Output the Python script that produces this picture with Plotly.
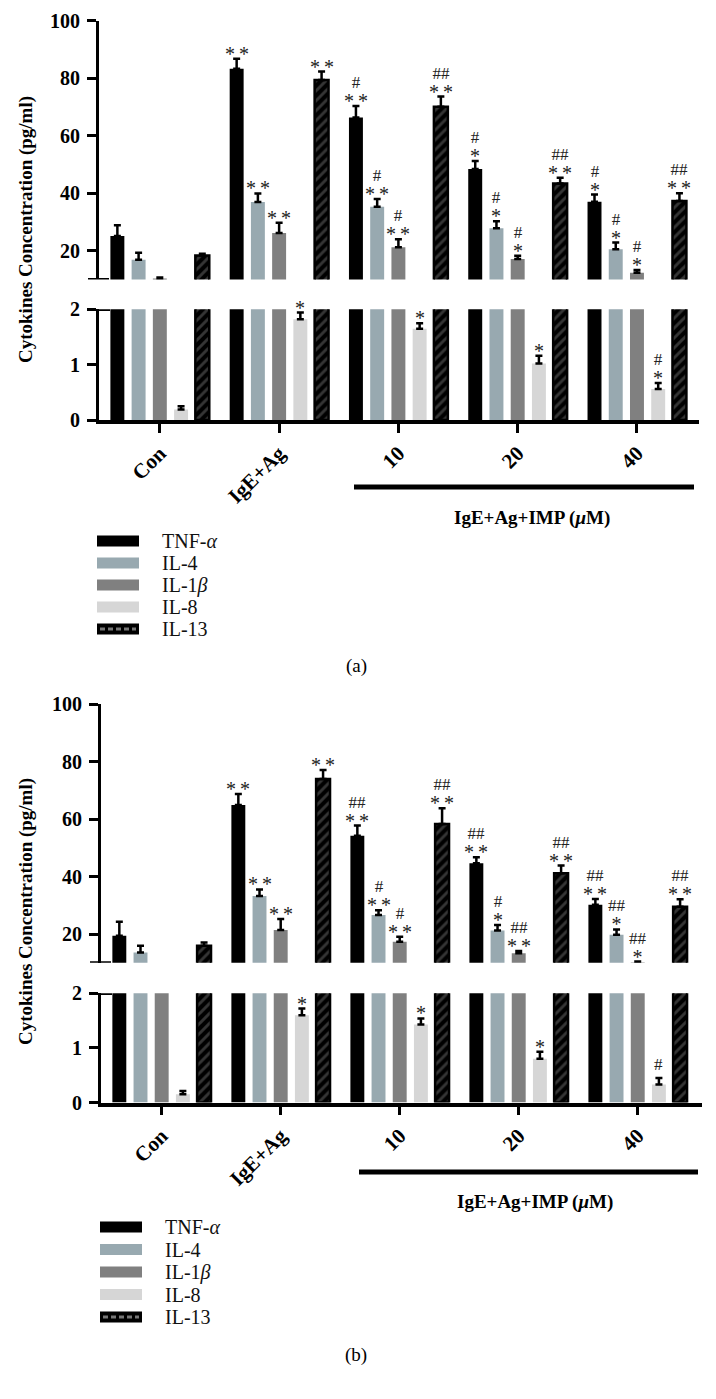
import plotly.graph_objects as go

W, H = 716, 1399

# ---------------- data ----------------
groups = ["Con", "IgE+Ag", "10", "20", "40"]
series = ["TNF-α", "IL-4", "IL-1β", "IL-8", "IL-13"]
legend_labels = ["TNF-<i>α</i>", "IL-4", "IL-1<i>β</i>", "IL-8", "IL-13"]

# Panel (a)
a_tnf = [25.1, 83.3, 66.3, 48.4, 37.0]
a_tnf_err = [3.7, 3.5, 4.0, 2.8, 2.5]
a_il4 = [16.8, 36.9, 35.3, 27.8, 20.5]
a_il4_err = [2.5, 3.0, 2.7, 2.4, 2.3]
a_il1b = [10.3, 26.1, 21.2, 17.1, 12.3]
a_il1b_err = [0.4, 3.6, 2.8, 1.1, 1.0]
a_il8 = [0.19, 1.82, 1.65, 1.02, 0.56]
a_il8_err = [0.06, 0.12, 0.10, 0.14, 0.11]
a_il13 = [18.3, 79.4, 70.1, 43.4, 37.3]
a_il13_err = [0.6, 2.9, 3.5, 2.0, 2.7]

a_stars = [["", "**", "**", "*", "*"],
           ["", "**", "**", "*", "*"],
           ["", "**", "**", "*", "*"],
           ["", "*", "*", "*", "*"],
           ["", "**", "**", "**", "**"]]
a_hash = [["", "", "#", "#", "#"],
          ["", "", "#", "#", "#"],
          ["", "", "#", "#", "#"],
          ["", "", "", "", "#"],
          ["", "", "##", "##", "##"]]

# Panel (b)
b_tnf = [19.4, 64.9, 54.2, 44.6, 30.2]
b_tnf_err = [4.9, 3.8, 3.5, 2.1, 2.0]
b_il4 = [13.6, 33.2, 26.6, 21.2, 19.7]
b_il4_err = [2.3, 2.3, 1.7, 1.9, 1.9]
b_il1b = [8.5, 21.4, 17.3, 13.3, 10.1]
b_il1b_err = [0.5, 3.8, 1.7, 0.8, 0.3]
b_il8 = [0.15, 1.60, 1.43, 0.80, 0.33]
b_il8_err = [0.06, 0.12, 0.11, 0.13, 0.12]
b_il13 = [15.9, 73.9, 58.3, 41.1, 29.5]
b_il13_err = [1.1, 3.1, 5.4, 2.7, 2.6]

b_stars = [["", "**", "**", "**", "**"],
           ["", "**", "**", "*", "*"],
           ["", "**", "**", "**", "*"],
           ["", "*", "*", "*", ""],
           ["", "**", "**", "**", "**"]]
b_hash = [["", "", "##", "##", "##"],
          ["", "", "#", "#", "##"],
          ["", "", "#", "##", "##"],
          ["", "", "", "", "#"],
          ["", "", "##", "##", "##"]]

upper_ticks = [20, 40, 60, 80, 100]
lower_ticks = [0, 1, 2]
x_title = "IgE+Ag+IMP (<i>μ</i>M)"
y_title = "Cytokines Concentration (pg/ml)"

# ---------------- style ----------------
colors = ["#000000", "#98a9b0", "#808080", "#d6d6d6", "#000000"]
SERIF = "Liberation Serif"
STEP = 0.178   # offset between bars within a group (category units)
BW = 0.117     # bar width (category units)
OFF = 8        # page body margin offset (px)


def px(p):
    return (p - OFF) / W


def py(p):
    return 1 - (p - OFF) / H


fig = go.Figure()
annotations = []
shapes = []


def star_text(st):
    return "*\u2009*" if st == "**" else "*"


def add_panel(xa, ya_up, ya_lo, vals, errs, stars, hashes):
    xref = xa
    for k in range(5):
        xs = [i + (k - 2) * STEP for i in range(len(groups))]
        if k == 4:
            marker = dict(color="black",
                          line=dict(color="black", width=2.5),
                          pattern=dict(shape="/", fgcolor="#6a6a6a", bgcolor="black",
                                       size=7, solidity=0.42, fillmode="overlay"))
        else:
            marker = dict(color=colors[k], line=dict(width=0))
        for ya in (ya_up, ya_lo):
            fig.add_trace(go.Bar(
                x=xs, y=vals[k], width=BW, xaxis=xa, yaxis=ya,
                marker=marker, name=series[k], showlegend=False,
                error_y=dict(type="data", array=errs[k], arrayminus=[0] * 5,
                             symmetric=False, color="black", thickness=2.5, width=3.5),
            ))
        yref = ya_lo if k == 3 else ya_up
        for i in range(len(groups)):
            top = vals[k][i] + errs[k][i]
            st = stars[k][i]
            hs = hashes[k][i]
            common = dict(x=xs[i], y=top, xref=xref, yref=yref, showarrow=False,
                          yanchor="bottom", borderpad=0)
            if st and hs:
                annotations.append(dict(
                    text=("<span style='font-size:17px'>" + hs + "</span><br>"
                          "<span style='font-size:20px'>" + star_text(st) + "</span>"),
                    yshift=-7, font=dict(family=SERIF, size=15.5, color="#222"), **common))
            elif st:
                annotations.append(dict(
                    text=star_text(st), yshift=-7,
                    font=dict(family=SERIF, size=20, color="#222"), **common))
            elif hs:
                annotations.append(dict(
                    text=hs, yshift=3,
                    font=dict(family=SERIF, size=17, color="#222"), **common))


add_panel("x", "y", "y2",
          [a_tnf, a_il4, a_il1b, a_il8, a_il13],
          [a_tnf_err, a_il4_err, a_il1b_err, a_il8_err, a_il13_err],
          a_stars, a_hash)
add_panel("x2", "y3", "y4",
          [b_tnf, b_il4, b_il1b, b_il8, b_il13],
          [b_tnf_err, b_il4_err, b_il1b_err, b_il8_err, b_il13_err],
          b_stars, b_hash)

ytickfont = dict(family=SERIF, size=20, color="black", weight="bold")
xtickfont = dict(family=SERIF, size=21, color="black", weight="bold")


def xaxis(dom, anchor, rng):
    return dict(domain=dom, anchor=anchor, range=rng, automargin=False,
                tickmode="array", tickvals=list(range(len(groups))), ticktext=groups,
                tickangle=-45, showline=True, linewidth=3.5, linecolor="black",
                ticks="outside", ticklen=9, tickwidth=3, tickcolor="black",
                tickfont=xtickfont, showgrid=False, zeroline=False, fixedrange=True)


def yaxis(dom, anchor, rng, tv):
    return dict(domain=dom, anchor=anchor, range=rng, automargin=False,
                tickmode="array", tickvals=tv, ticklabelstandoff=3,
                showline=True, linewidth=3, linecolor="black",
                ticks="outside", ticklen=9, tickwidth=3, tickcolor="black",
                tickfont=ytickfont, showgrid=False, zeroline=False, fixedrange=True)


# panel geometry (pixels in the final picture)
panels = [
    dict(x0=99, x1=699, up=(20.7, 279.4), lo=(309.3, 420.0), rng=[-0.51, 4.52],
         leg_x=97, leg_y=541, leg_dy=22, line=(354, 694, 487), xt=(532, 518), lab=(356, 666, "(a)"),
         ytitle=(26, 230)),
    dict(x0=101, x1=702, up=(704.0, 962.75), lo=(993.3, 1102.5), rng=[-0.51, 4.54],
         leg_x=100, leg_y=1227, leg_dy=22.5, line=(359, 698, 1172), xt=(535, 1202), lab=(356, 1355, "(b)"),
         ytitle=(26, 912)),
]

layout_axes = {}
names = [("xaxis", "yaxis", "yaxis2", "x", "y", "y2"),
         ("xaxis2", "yaxis3", "yaxis4", "x2", "y3", "y4")]
for p, (xn, yun, yln, xr, yur, ylr) in zip(panels, names):
    layout_axes[xn] = xaxis([px(p["x0"]), px(p["x1"])], ylr, p["rng"])
    layout_axes[yun] = yaxis([py(p["up"][1]), py(p["up"][0])], xr, [10, 100], upper_ticks)
    layout_axes[yln] = yaxis([py(p["lo"][1]), py(p["lo"][0])], xr, [0, 2], lower_ticks)
    # axis break marks
    shapes.append(dict(type="line", xref="paper", yref=yur, x0=px(p["x0"] - 11), x1=px(p["x0"] + 10),
                       y0=10, y1=10, line=dict(color="black", width=3)))
    shapes.append(dict(type="line", xref="paper", yref=ylr, x0=px(p["x0"] - 11), x1=px(p["x0"] + 11),
                       y0=2, y1=2, line=dict(color="black", width=3.5)))
    # group bar under the IMP doses
    l0, l1, ly = p["line"]
    shapes.append(dict(type="line", xref="paper", yref="paper", x0=px(l0), x1=px(l1),
                       y0=py(ly), y1=py(ly), line=dict(color="black", width=5)))
    annotations.append(dict(x=px(p["xt"][0]), y=py(p["xt"][1]), xref="paper", yref="paper",
                            text="<b>" + x_title + "</b>", showarrow=False,
                            font=dict(family=SERIF, size=19, color="black"),
                            xanchor="center", yanchor="middle"))
    annotations.append(dict(x=px(p["ytitle"][0]), y=py(p["ytitle"][1]), xref="paper", yref="paper",
                            text="<b>" + y_title + "</b>", showarrow=False, textangle=-90,
                            font=dict(family=SERIF, size=19, color="black"),
                            xanchor="center", yanchor="middle"))
    annotations.append(dict(x=px(p["lab"][0]), y=py(p["lab"][1]), xref="paper", yref="paper",
                            text=p["lab"][2], showarrow=False,
                            font=dict(family=SERIF, size=19, color="black"),
                            xanchor="center", yanchor="middle"))
    # custom legend
    for k in range(5):
        cy = p["leg_y"] + k * p["leg_dy"]
        shapes.append(dict(type="rect", xref="paper", yref="paper",
                           x0=px(p["leg_x"]), x1=px(p["leg_x"] + 42),
                           y0=py(cy + 5.5), y1=py(cy - 5.5),
                           fillcolor=colors[k], line=dict(width=0)))
        if k == 4:
            shapes.append(dict(type="line", xref="paper", yref="paper",
                               x0=px(p["leg_x"] + 3), x1=px(p["leg_x"] + 39),
                               y0=py(cy), y1=py(cy),
                               line=dict(color="#777777", width=3, dash="5px,3px")))
        annotations.append(dict(x=px(p["leg_x"] + 63), y=py(cy), xref="paper", yref="paper",
                                text=legend_labels[k], showarrow=False,
                                font=dict(family=SERIF, size=20, color="#111"),
                                xanchor="left", yanchor="middle"))

fig.update_layout(
    width=W, height=H,
    margin=dict(l=0, r=0, t=0, b=0, autoexpand=False),
    paper_bgcolor="white", plot_bgcolor="white",
    barmode="overlay", showlegend=False,
    annotations=annotations, shapes=shapes,
    **layout_axes,
)

fig.write_html("out.html")
